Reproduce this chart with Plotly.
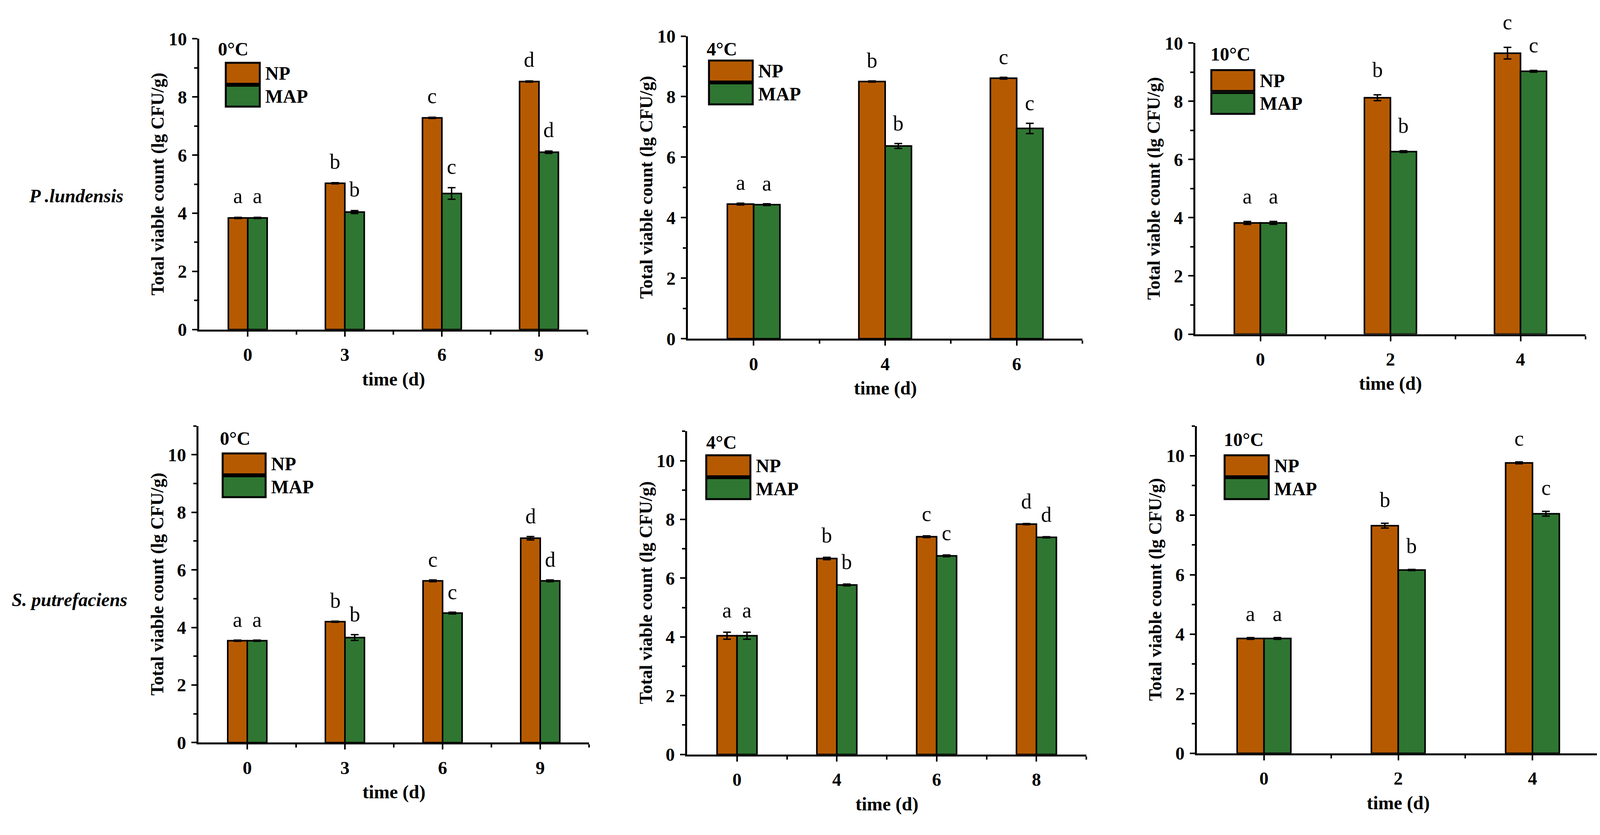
import plotly.graph_objects as go

W, H = 4115, 2138
FONT = "Liberation Serif"
NP_COLOR = "#B65A02"
MAP_COLOR = "#2F7632"

# ---- P. lundensis ----
pl_0c_days = ["0", "3", "6", "9"]
pl_0c_np = [3.84, 5.03, 7.28, 8.53]
pl_0c_np_err = [0.02, 0.02, 0.02, 0.02]
pl_0c_map = [3.84, 4.04, 4.68, 6.10]
pl_0c_map_err = [0.02, 0.05, 0.20, 0.04]
pl_0c_np_sig = ["a", "b", "c", "d"]
pl_0c_map_sig = ["a", "b", "c", "d"]

pl_4c_days = ["0", "4", "6"]
pl_4c_np = [4.45, 8.50, 8.61]
pl_4c_np_err = [0.03, 0.02, 0.03]
pl_4c_map = [4.43, 6.37, 6.95]
pl_4c_map_err = [0.03, 0.08, 0.17]
pl_4c_np_sig = ["a", "b", "c"]
pl_4c_map_sig = ["a", "b", "c"]

pl_10c_days = ["0", "2", "4"]
pl_10c_np = [3.82, 8.12, 9.65]
pl_10c_np_err = [0.05, 0.10, 0.20]
pl_10c_map = [3.82, 6.27, 9.03]
pl_10c_map_err = [0.05, 0.03, 0.03]
pl_10c_np_sig = ["a", "b", "c"]
pl_10c_map_sig = ["a", "b", "c"]

# ---- S. putrefaciens ----
sp_0c_days = ["0", "3", "6", "9"]
sp_0c_np = [3.54, 4.20, 5.62, 7.10]
sp_0c_np_err = [0.02, 0.02, 0.03, 0.06]
sp_0c_map = [3.54, 3.65, 4.50, 5.62]
sp_0c_map_err = [0.02, 0.10, 0.03, 0.03]
sp_0c_np_sig = ["a", "b", "c", "d"]
sp_0c_map_sig = ["a", "b", "c", "d"]

sp_4c_days = ["0", "4", "6", "8"]
sp_4c_np = [4.04, 6.67, 7.41, 7.84]
sp_4c_np_err = [0.12, 0.04, 0.03, 0.02]
sp_4c_map = [4.04, 5.77, 6.76, 7.39]
sp_4c_map_err = [0.12, 0.03, 0.03, 0.02]
sp_4c_np_sig = ["a", "b", "c", "d"]
sp_4c_map_sig = ["a", "b", "c", "d"]

sp_10c_days = ["0", "2", "4"]
sp_10c_np = [3.86, 7.65, 9.76]
sp_10c_np_err = [0.03, 0.08, 0.03]
sp_10c_map = [3.86, 6.16, 8.05]
sp_10c_map_err = [0.03, 0.02, 0.08]
sp_10c_np_sig = ["a", "b", "c"]
sp_10c_map_sig = ["a", "b", "c"]

row_labels = ["P .lundensis", "S. putrefaciens"]

# panel geometry in screen pixels: box = (left, top, right, bottom)
panels = [
    dict(days=pl_0c_days, np=pl_0c_np, np_err=pl_0c_np_err, map=pl_0c_map, map_err=pl_0c_map_err,
         np_sig=pl_0c_np_sig, map_sig=pl_0c_map_sig, temp="0°C", ymax=10,
         box=(502, 67, 1496, 830), tag=(46, 27), leg=(68, 63, 87), sig_shift=54),
    dict(days=pl_4c_days, np=pl_4c_np, np_err=pl_4c_np_err, map=pl_4c_map, map_err=pl_4c_map_err,
         np_sig=pl_4c_np_sig, map_sig=pl_4c_map_sig, temp="4°C", ymax=10,
         box=(1753, 60, 2763, 854), tag=(46, 34), leg=(54, 64, 112), sig_shift=52),
    dict(days=pl_10c_days, np=pl_10c_np, np_err=pl_10c_np_err, map=pl_10c_map, map_err=pl_10c_map_err,
         np_sig=pl_10c_np_sig, map_sig=pl_10c_map_sig, temp="10°C", ymax=10,
         box=(3052, 78, 4051, 842), tag=(37, 29), leg=(41, 71, 110), sig_shift=64),
    dict(days=sp_0c_days, np=sp_0c_np, np_err=sp_0c_np_err, map=sp_0c_map, map_err=sp_0c_map_err,
         np_sig=sp_0c_np_sig, map_sig=sp_0c_map_sig, temp="0°C", ymax=11,
         box=(500, 1083, 1500, 1914), tag=(53, 33), leg=(62, 72, 110), sig_shift=52),
    dict(days=sp_4c_days, np=sp_4c_np, np_err=sp_4c_np_err, map=sp_4c_map, map_err=sp_4c_map_err,
         np_sig=sp_4c_np_sig, map_sig=sp_4c_map_sig, temp="4°C", ymax=11,
         box=(1751, 1097, 2773, 1945), tag=(47, 29), leg=(49, 63, 113), sig_shift=56),
    dict(days=sp_10c_days, np=sp_10c_np, np_err=sp_10c_np_err, map=sp_10c_map, map_err=sp_10c_map_err,
         np_sig=sp_10c_np_sig, map_sig=sp_10c_map_sig, temp="10°C", ymax=11,
         box=(3056, 1083, 4087, 1942), tag=(67, 36), leg=(71, 77, 113), sig_shift=60),
]

BOX_H = 55
BOX_GAP = 5
BAR_W = 0.2

bold = dict(family=FONT, color="black", weight="bold")

fig = go.Figure()
annotations = []
shapes = []

for k, p in enumerate(panels, start=1):
    sfx = "" if k == 1 else str(k)
    xa, ya = "x" + sfx, "y" + sfx
    left, top, right, bottom = p["box"]
    pw, ph = right - left, bottom - top
    n = len(p["days"])
    pos = list(range(n))

    for name, vals, errs, color in (("NP", p["np"], p["np_err"], NP_COLOR),
                                    ("MAP", p["map"], p["map_err"], MAP_COLOR)):
        fig.add_trace(go.Bar(
            x=pos, y=vals, name=name, xaxis=xa, yaxis=ya, showlegend=False,
            marker=dict(color=color, line=dict(color="black", width=4)),
            error_y=dict(type="data", array=errs, color="black", thickness=3.5, width=10),
        ))

    axis_common = dict(showgrid=False, zeroline=False, showline=True, linecolor="black",
                       linewidth=5, ticks="outside", ticklen=13, tickwidth=4, tickcolor="black",
                       tickfont=dict(size=47, **bold))
    fig.update_layout(**{
        "xaxis" + sfx: dict(domain=[left / W, right / W], anchor=ya, range=[-0.5, n - 0.5],
                            tickmode="array", tickvals=pos, ticktext=p["days"],
                            minor=dict(tickvals=[i + 0.5 for i in pos], ticks="outside",
                                       ticklen=8, tickwidth=4, tickcolor="black"),
                            ticklabelstandoff=6, **axis_common),
        "yaxis" + sfx: dict(domain=[1 - bottom / H, 1 - top / H], anchor=xa, range=[0, p["ymax"]],
                            tick0=0, dtick=2,
                            minor=dict(dtick=1, ticks="outside", ticklen=8, tickwidth=4,
                                       tickcolor="black"),
                            ticklabelstandoff=4, **axis_common),
    })

    # significance letters above the bars
    for vals, errs, sigs, dx in ((p["np"], p["np_err"], p["np_sig"], -BAR_W / 2),
                                 (p["map"], p["map_err"], p["map_sig"], BAR_W / 2)):
        for i in pos:
            annotations.append(dict(
                xref=xa, yref=ya, x=i + dx, y=vals[i] + errs[i], text=sigs[i],
                showarrow=False, yanchor="middle", yshift=p["sig_shift"],
                font=dict(family=FONT, size=54, color="black"),
            ))

    xd, yd = xa + " domain", ya + " domain"
    # axis titles
    annotations.append(dict(xref=xd, yref=yd, x=-106 / pw, y=0.5, text="Total viable count (lg CFU/g)",
                            textangle=-90, showarrow=False, xanchor="center", yanchor="middle",
                            font=dict(size=46, **bold)))
    annotations.append(dict(xref=xd, yref=yd, x=0.5, y=-130 / ph, text="time (d)",
                            showarrow=False, xanchor="center", yanchor="middle",
                            font=dict(size=48, **bold)))
    # temperature tag
    tx, ty = p["tag"]
    annotations.append(dict(xref=xd, yref=yd, x=tx / pw, y=1 - ty / ph, text=p["temp"],
                            showarrow=False, xanchor="left", yanchor="middle",
                            font=dict(size=48, **bold)))
    # legend boxes
    lx, ly, lw = p["leg"]
    for j, (name, color) in enumerate((("NP", NP_COLOR), ("MAP", MAP_COLOR))):
        y0 = ly + j * (BOX_H + BOX_GAP)
        shapes.append(dict(type="rect", xref=xd, yref=yd,
                           x0=lx / pw, x1=(lx + lw) / pw,
                           y0=1 - (y0 + BOX_H) / ph, y1=1 - y0 / ph,
                           fillcolor=color, line=dict(color="black", width=5)))
        annotations.append(dict(xref=xd, yref=yd, x=(lx + lw + 12) / pw, y=1 - (y0 + BOX_H / 2) / ph,
                                text=name, showarrow=False, xanchor="left", yanchor="middle",
                                font=dict(size=48, **bold)))

# row labels
for label, (cx, cy) in zip(row_labels, ((187, 479), (170, 1539))):
    annotations.append(dict(xref="paper", yref="paper", x=cx / W, y=1 - cy / H, text=label,
                            showarrow=False, xanchor="center", yanchor="middle",
                            font=dict(family=FONT, size=48, color="black", weight="bold",
                                      style="italic")))

fig.update_layout(
    width=W, height=H, margin=dict(l=0, r=0, t=0, b=0),
    paper_bgcolor="white", plot_bgcolor="white",
    barmode="group", bargap=1 - 2 * BAR_W, bargroupgap=0,
    annotations=annotations, shapes=shapes,
    font=dict(family=FONT, color="black"),
)

fig.write_html("out.html")
